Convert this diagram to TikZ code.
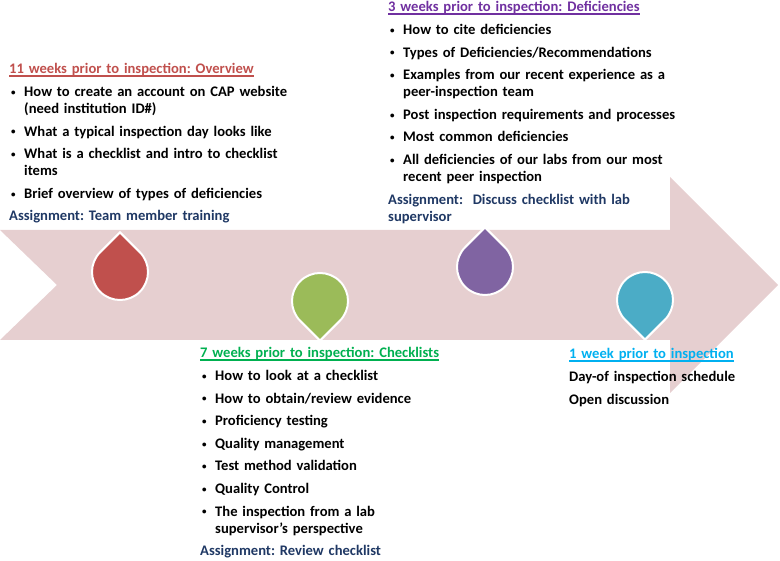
\documentclass[tikz,border=0pt]{standalone}
\usepackage{fontspec}
\setmainfont{Carlito}
\frenchspacing

\definecolor{arrowpink}{RGB}{230,207,208}
\definecolor{dropred}{HTML}{C0504D}
\definecolor{dropgreen}{HTML}{9BBB59}
\definecolor{droppurple}{HTML}{8064A2}
\definecolor{dropblue}{HTML}{4BACC6}
\definecolor{headred}{HTML}{C0504D}
\definecolor{headpurple}{HTML}{7030A0}
\definecolor{headgreen}{HTML}{00B050}
\definecolor{headblue}{HTML}{00B0F0}
\definecolor{assignblue}{HTML}{1F3864}

% underlined heading, bullet item, plain line
\newcommand{\headul}[1]{\setbox0\hbox{#1}\rlap{\rule[-2.6pt]{\wd0}{1.1pt}}\box0}
\newcommand{\smallbul}{\raisebox{1.2pt}{\fontsize{9}{9}\selectfont\textbullet}}
\newcommand{\bitem}[1]{\par\vspace{5.6pt}\noindent\hangindent=15pt\hangafter=1\makebox[15pt][l]{\hspace{2pt}\smallbul}#1}
\newcommand{\pline}[1]{\par\vspace{5.6pt}\noindent #1}

\tikzset{
  textblock/.style={anchor=base west, inner sep=0pt, align=left, text width=320pt,
    font=\fontsize{14.6}{17}\selectfont\bfseries},
  pics/teardrop/.style={code={
    \fill[#1, draw=white, line width=2pt] (0,39.6) -- (45:28)
      arc[start angle=45, end angle=-225, radius=28] -- cycle;
  }}
}

\begin{document}
\begin{tikzpicture}[x=1pt,y=1pt]
\useasboundingbox (0,0) rectangle (780,-561);

% the timeline arrow
\fill[arrowpink] (0,-230) -- (670,-230) -- (670,-177) -- (778,-285)
  -- (670,-393) -- (670,-340) -- (0,-340) -- (57,-285) -- cycle;

% markers
\pic (reddrop) at (120,-272) {teardrop=dropred};
\pic[rotate=180] (greendrop) at (320,-301) {teardrop=dropgreen};
\pic (purpledrop) at (485,-267) {teardrop=droppurple};
\pic[rotate=180] (bluedrop) at (645,-300) {teardrop=dropblue};

\node[textblock] (overview) at (9,-74) {%
{\color{headred}\headul{11 weeks prior to inspection: Overview}}
\bitem{How to create an account on CAP website\newline(need institution ID\#)}
\bitem{What a typical inspection day looks like}
\bitem{What is a checklist and intro to checklist\newline items}
\bitem{Brief overview of types of deficiencies}
\pline{\color{assignblue}Assignment: Team member training}};

\node[textblock] (deficiencies) at (388,-12) {%
{\color{headpurple}\headul{3 weeks prior to inspection: Deficiencies}}
\bitem{How to cite deficiencies}
\bitem{Types of Deficiencies/Recommendations}
\bitem{Examples from our recent experience as a\newline peer-inspection team}
\bitem{Post inspection requirements and processes}
\bitem{Most common deficiencies}
\bitem{All deficiencies of our labs from our most\newline recent peer inspection}
\pline{\color{assignblue}Assignment:\ \ Discuss checklist with lab\newline supervisor}};

\node[textblock] (checklists) at (200,-358) {%
{\color{headgreen}\headul{7 weeks prior to inspection: Checklists}}
\bitem{How to look at a checklist}
\bitem{How to obtain/review evidence}
\bitem{Proficiency testing}
\bitem{Quality management}
\bitem{Test method validation}
\bitem{Quality Control}
\bitem{The inspection from a lab\newline supervisor’s perspective}
\pline{\color{assignblue}Assignment: Review checklist}};

\node[textblock] (lastweek) at (569,-359) {%
{\color{headblue}\headul{1 week prior to inspection}}
\pline{Day-of inspection schedule}
\pline{Open discussion}};
\end{tikzpicture}
\end{document}
